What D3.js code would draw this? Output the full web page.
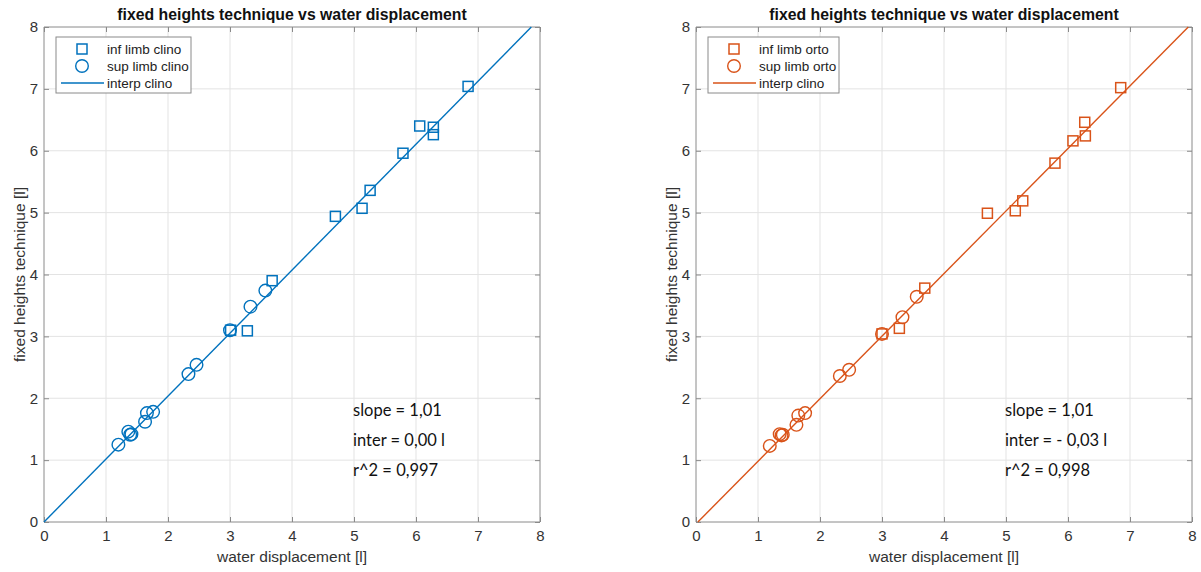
<!DOCTYPE html>
<html><head><meta charset="utf-8">
<script src="https://cdn.jsdelivr.net/npm/d3@7"></script>
<style>
html,body{margin:0;padding:0;background:#fff;}
svg{display:block;}
</style></head>
<body>
<svg id="chart" width="1201" height="572"></svg>
<script>
// ---- data ----
const titleText = "fixed heights technique vs water displacement";
const xLabelText = "water displacement [l]";
const yLabelText = "fixed heights technique [l]";
const tickValues = [0,1,2,3,4,5,6,7,8];

const clinoInfX = [6.84, 6.06, 6.28, 6.28, 5.79, 5.26, 5.13, 4.70, 3.68, 3.28, 3.01];
const clinoInfY = [7.04, 6.40, 6.38, 6.26, 5.96, 5.36, 5.07, 4.94, 3.90, 3.09, 3.10];
const clinoSupX = [1.20, 1.36, 1.39, 1.41, 1.63, 1.66, 1.76, 2.33, 2.46, 3.00, 3.33, 3.57];
const clinoSupY = [1.25, 1.46, 1.41, 1.42, 1.62, 1.76, 1.78, 2.39, 2.54, 3.10, 3.48, 3.74];
const clinoFitX = [0, 7.86];
const clinoFitY = [0, 8];

const ortoInfX = [6.85, 6.27, 6.28, 6.08, 5.79, 5.27, 5.15, 4.70, 3.69, 3.28, 3.00];
const ortoInfY = [7.02, 6.46, 6.24, 6.16, 5.80, 5.19, 5.03, 4.99, 3.78, 3.13, 3.04];
const ortoSupX = [1.19, 1.35, 1.38, 1.40, 1.62, 1.65, 1.76, 2.32, 2.47, 3.00, 3.33, 3.56];
const ortoSupY = [1.23, 1.42, 1.40, 1.41, 1.57, 1.72, 1.76, 2.36, 2.46, 3.04, 3.31, 3.64];
const ortoFitX = [0.03, 7.94];
const ortoFitY = [0, 8];

const panels = [
  {left:44, color:"#0072BD", infX:clinoInfX, infY:clinoInfY, supX:clinoSupX, supY:clinoSupY,
   fitX:clinoFitX, fitY:clinoFitY,
   legend:["inf limb clino","sup limb clino","interp clino"],
   legendW:135,
   stats:["slope = 1,01","inter = 0,00 l","r^2 = 0,997"]},
  {left:696, color:"#D95319", infX:ortoInfX, infY:ortoInfY, supX:ortoSupX, supY:ortoSupY,
   fitX:ortoFitX, fitY:ortoFitY,
   legend:["inf limb orto","sup limb orto","interp clino"],
   legendW:131,
   stats:["slope = 1,01","inter = - 0,03 l","r^2 = 0,998"]}
];

const svg = d3.select("#chart");
const W = 496, topY = 27, bottomY = 522;
const font = "'Liberation Sans', Arial, Helvetica, sans-serif";

panels.forEach(p => {
  const x = d3.scaleLinear().domain([0,8]).range([p.left, p.left + W]);
  const y = d3.scaleLinear().domain([0,8]).range([bottomY, topY]);
  const g = svg.append("g");

  // grid
  g.selectAll(".gx").data(tickValues.slice(1,-1)).enter().append("line")
    .attr("x1", d=>x(d)).attr("x2", d=>x(d)).attr("y1", topY).attr("y2", bottomY)
    .attr("stroke", "#e3e3e3").attr("stroke-width", 1);
  g.selectAll(".gy").data(tickValues.slice(1,-1)).enter().append("line")
    .attr("y1", d=>y(d)).attr("y2", d=>y(d)).attr("x1", p.left).attr("x2", p.left+W)
    .attr("stroke", "#e3e3e3").attr("stroke-width", 1);

  // axes
  const xAxis = d3.axisBottom(x).tickValues(tickValues).tickSize(-5).tickPadding(8).tickFormat(d3.format("d"));
  const xAxisTop = d3.axisTop(x).tickValues(tickValues).tickSize(-5).tickFormat("");
  const yAxis = d3.axisLeft(y).tickValues(tickValues).tickSize(-5).tickPadding(6).tickFormat(d3.format("d"));
  const yAxisR = d3.axisRight(y).tickValues(tickValues).tickSize(-5).tickFormat("");
  const axStyle = sel => {
    sel.attr("font-size", null);
    sel.selectAll("path").attr("stroke","#8a8a8a").attr("stroke-width",1);
    sel.selectAll("line").attr("stroke","#8a8a8a");
    sel.selectAll("text").attr("fill","#333").style("font-family",font).style("font-size","15px");
  };
  g.append("g").attr("transform",`translate(0,${bottomY})`).call(xAxis).call(s=>s.select(".domain").attr("d",`M${p.left},0H${p.left+W}`)).call(axStyle);
  g.append("g").attr("transform",`translate(0,${topY})`).call(xAxisTop).call(s=>s.select(".domain").attr("d",`M${p.left},0H${p.left+W}`)).call(axStyle);
  g.append("g").attr("transform",`translate(${p.left},0)`).call(yAxis).call(s=>s.select(".domain").attr("d",`M0,${topY}V${bottomY}`)).call(axStyle);
  g.append("g").attr("transform",`translate(${p.left+W},0)`).call(yAxisR).call(s=>s.select(".domain").attr("d",`M0,${topY}V${bottomY}`)).call(axStyle);

  // labels
  g.append("text").attr("x", p.left + W/2).attr("y", 20).attr("text-anchor","middle")
    .style("font-family",font).style("font-size","15.8px").style("font-weight","bold").attr("fill","#111")
    .text(titleText);
  g.append("text").attr("x", p.left + W/2).attr("y", 562).attr("text-anchor","middle")
    .style("font-family",font).style("font-size","15.5px").attr("fill","#333").text(xLabelText);
  g.append("text").attr("transform",`translate(${p.left-19},${(topY+bottomY)/2}) rotate(-90)`)
    .attr("text-anchor","middle").style("font-family",font).style("font-size","15.5px").attr("fill","#333")
    .text(yLabelText);

  // fit line
  const fit = p.fitX.map((v,i)=>[v,p.fitY[i]]);
  g.append("path").attr("d", d3.line().x(d=>x(d[0])).y(d=>y(d[1]))(fit))
    .attr("stroke", p.color).attr("stroke-width",1.4).attr("fill","none");

  // squares
  const inf = p.infX.map((v,i)=>[v,p.infY[i]]);
  const s = 10;
  g.selectAll(".sq").data(inf).enter().append("rect")
    .attr("x", d=>x(d[0])-s/2).attr("y", d=>y(d[1])-s/2).attr("width",s).attr("height",s)
    .attr("fill","none").attr("stroke",p.color).attr("stroke-width",1.5);
  // circles
  const sup = p.supX.map((v,i)=>[v,p.supY[i]]);
  g.selectAll(".ci").data(sup).enter().append("circle")
    .attr("cx", d=>x(d[0])).attr("cy", d=>y(d[1])).attr("r",6.3)
    .attr("fill","none").attr("stroke",p.color).attr("stroke-width",1.4);

  // legend
  const lx = p.left + 12, ly = 37;
  g.append("rect").attr("x", lx).attr("y", ly).attr("width", p.legendW).attr("height", 56)
    .attr("fill","#fff").attr("stroke","#8a8a8a").attr("stroke-width",1);
  const rows = [49, 66, 83];
  g.append("rect").attr("x", lx+26-s/2).attr("y", rows[0]-s/2).attr("width",s).attr("height",s)
    .attr("fill","none").attr("stroke",p.color).attr("stroke-width",1.5);
  g.append("circle").attr("cx", lx+26).attr("cy", rows[1]).attr("r",6.3)
    .attr("fill","none").attr("stroke",p.color).attr("stroke-width",1.4);
  g.append("line").attr("x1", lx+5).attr("x2", lx+48).attr("y1", rows[2]).attr("y2", rows[2])
    .attr("stroke",p.color).attr("stroke-width",1.4);
  p.legend.forEach((t,i)=>{
    g.append("text").attr("x", lx+51).attr("y", rows[i]).attr("dy","0.35em")
      .style("font-family",font).style("font-size","13.5px").attr("fill","#222").text(t);
  });

  // stats
  p.stats.forEach((t,i)=>{
    g.append("text").attr("x", x(5)-1).attr("y", 410 + i*30).attr("dy","0.35em")
      .style("font-family","Lato, 'Open Sans', sans-serif").style("font-size","16.5px").attr("fill","#111").text(t);
  });
});
</script>
</body></html>
